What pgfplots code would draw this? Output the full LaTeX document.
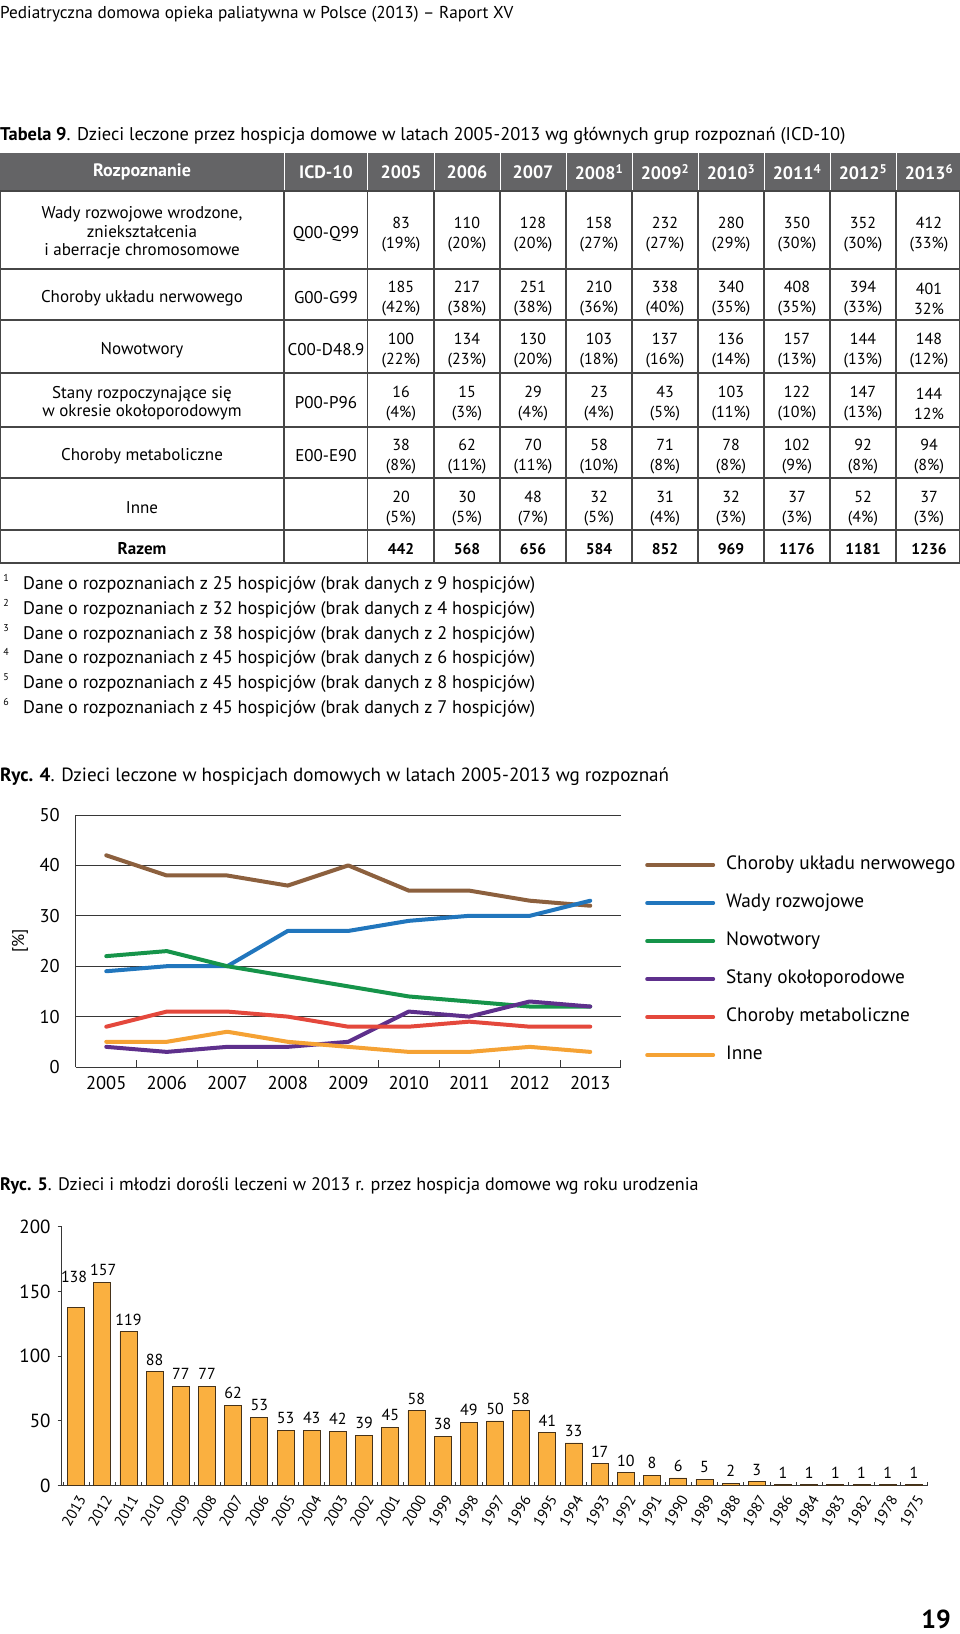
\documentclass[border=0pt]{standalone}
\usepackage{pgfplots}
\pgfplotsset{compat=1.18}
\usepackage{pgfplotstable}
\usepackage{fontspec}
\setmainfont{PT Sans}
\definecolor{hdr}{RGB}{100,100,102}
\definecolor{tline}{RGB}{70,70,70}
\definecolor{gridc}{RGB}{55,55,55}
\definecolor{cBrown}{RGB}{140,96,62}
\definecolor{cBlue}{RGB}{33,118,189}
\definecolor{cGreen}{RGB}{22,148,74}
\definecolor{cPurple}{RGB}{94,48,140}
\definecolor{cRed}{RGB}{228,72,60}
\definecolor{cOrange}{RGB}{245,162,52}
\definecolor{barfill}{RGB}{250,176,64}
\definecolor{bardraw}{RGB}{70,50,25}
\newcommand\fs[2]{\fontsize{#1}{#2}\selectfont}

\pgfplotstableread{
x nerw wady nowo stany metab inne
1 42 19 22 4 8 5
2 38 20 23 3 11 5
3 38 20 20 4 11 7
4 36 27 18 4 10 5
5 40 27 16 5 8 4
6 35 29 14 11 8 3
7 35 30 13 10 9 3
8 33 30 12 13 8 4
9 32 33 12 12 8 3
}\lines

\pgfplotstableread{
x y lab dx dy
0 138 138 -2 24
1 157 157 1 6
2 119 119 0 6
3 88 88 0 6
4 77 77 0 6
5 77 77 0 6
6 62 62 0 6
7 53 53 0 6
8 43 53 0 6
9 43 43 0 6
10 42 42 0 6
11 39 39 0 6
12 45 45 0 6
13 58 58 0 6
14 38 38 0 6
15 49 49 0 6
16 50 50 0 6
17 58 58 0 6
18 41 41 0 6
19 33 33 0 6
20 17 17 0 6
21 10 10 0 6
22 8 8 0 6
23 6 6 0 6
24 5 5 0 6
25 2 2 0 6
26 3 3 0 6
27 1 1 0 6
28 1 1 0 6
29 1 1 0 6
30 1 1 0 6
31 1 1 0 6
32 1 1 0 6
}\bars

\newcommand\rowvals[3][]{%
  \foreach \a/\b [count=\i from 0] in {#3} {\node[cellnum,#1] at ({401+66*\i},#2) {\a\\\b};}}

\begin{document}
\begin{tikzpicture}
\path[use as bounding box] (0pt,0pt) rectangle (960pt,-1634pt);
\begin{scope}[x=1pt,y=-1pt,
  cellnum/.style={align=center, inner sep=0pt, font=\fs{16}{20}},
  lab/.style={align=center, inner sep=0pt, font=\fs{17}{18.5}}]
% page header
\node[anchor=west, inner sep=0pt, font=\fs{17.2}{20}] at (0,14) {Pediatryczna domowa opieka paliatywna w Polsce (2013) -- Raport XV};
\node[anchor=west, inner sep=0pt, font=\fs{18.4}{21}] at (0,136) {\textbf{Tabela 9}. Dzieci leczone przez hospicja domowe w latach 2005-2013 wg głównych grup rozpoznań (ICD-10)};
% table header
\fill[hdr] (0,153) rectangle (960,191);
\foreach \xx in {284,367.5,434,500,566,632,698,764,830,896}
  \draw[white, line width=1pt] (\xx,153) -- (\xx,191);
\begin{scope}[every node/.style={text=white, inner sep=0pt, font=\fs{18}{20}\bfseries}]
\node at (142,172) {Rozpoznanie};
\node at (326,172) {ICD-10};
\node at (401,172) {2005};
\node at (467,172) {2006};
\node at (533,172) {2007};
\node at (599,172) {2008\textsuperscript{1}};
\node at (665,172) {2009\textsuperscript{2}};
\node at (731,172) {2010\textsuperscript{3}};
\node at (797,172) {2011\textsuperscript{4}};
\node at (863,172) {2012\textsuperscript{5}};
\node at (929,172) {2013\textsuperscript{6}};
\end{scope}
% grid
\foreach \xx in {0.7,284,367.5,434,500,566,632,698,764,830,896,959.3}
  \draw[tline, line width=1.2pt] (\xx,191) -- (\xx,563);
\foreach \yy in {191,269,320,373,427,478,530,563}
  \draw[tline, line width=1.2pt] (0,\yy) -- (960,\yy);
% first column
\node[lab] at (142,233) {Wady rozwojowe wrodzone,\\zniekształcenia\\i aberracje chromosomowe};
\node[lab] at (142,298) {Choroby układu nerwowego};
\node[lab] at (142,350) {Nowotwory};
\node[lab] at (142,403) {Stany rozpoczynające się\\w okresie okołoporodowym};
\node[lab] at (142,456) {Choroby metaboliczne};
\node[lab] at (142,508) {Inne};
\node[lab, font=\fs{17}{20}\bfseries] at (142,549) {Razem};
\node[lab] at (326,234) {Q00-Q99};
\node[lab] at (326,298) {G00-G99};
\node[lab] at (326,350) {C00-D48.9};
\node[lab] at (326,403) {P00-P96};
\node[lab] at (326,456) {E00-E90};
\rowvals{235}{83/(19\%),110/(20\%),128/(20\%),158/(27\%),232/(27\%),280/(29\%),350/(30\%),352/(30\%),412/(33\%)}
\rowvals{298.5}{185/(42\%),217/(38\%),251/(38\%),210/(36\%),338/(40\%),340/(35\%),408/(35\%),394/(33\%),401/32\%}
\rowvals{351}{100/(22\%),134/(23\%),130/(20\%),103/(18\%),137/(16\%),136/(14\%),157/(13\%),144/(13\%),148/(12\%)}
\rowvals{404}{16/(4\%),15/(3\%),29/(4\%),23/(4\%),43/(5\%),103/(11\%),122/(10\%),147/(13\%),144/12\%}
\rowvals{457}{38/(8\%),62/(11\%),70/(11\%),58/(10\%),71/(8\%),78/(8\%),102/(9\%),92/(8\%),94/(8\%)}
\rowvals{508.5}{20/(5\%),30/(5\%),48/(7\%),32/(5\%),31/(4\%),32/(3\%),37/(3\%),52/(4\%),37/(3\%)}
\foreach \v [count=\i from 0] in {442,568,656,584,852,969,1176,1181,1236}
  \node[inner sep=0pt, font=\fs{15.5}{20}\bfseries] at ({401+66*\i},549) {\v};
% footnotes
\foreach \n/\a/\b [count=\i from 0] in {1/25/9,2/32/4,3/38/2,4/45/6,5/45/8,6/45/7} {
  \node[anchor=west, inner sep=0pt, font=\fs{18.2}{20}] at (23,{585+24.8*\i}) {Dane o rozpoznaniach z \a\ hospicjów (brak danych z \b\ hospicjów)};
  \node[inner sep=0pt, font=\fs{10}{12}] at (6,{578+24.8*\i}) {\n};
}
% captions
\node[anchor=west, inner sep=0pt, font=\fs{19.1}{21}] at (0,777) {\textbf{Ryc. 4}. Dzieci leczone w hospicjach domowych w latach 2005-2013 wg rozpoznań};
\node[rotate=90, inner sep=0pt, font=\fs{17}{20}] at (20,941) {[\%]};
\node[anchor=west, inner sep=0pt, font=\fs{18.1}{20}] at (0,1186) {\textbf{Ryc. 5}. Dzieci i młodzi dorośli leczeni w 2013 r. przez hospicja domowe wg roku urodzenia};
\node[anchor=east, inner sep=0pt, font=\fs{26}{30}\bfseries] at (951,1619) {19};
\end{scope}

% ---------- line chart ----------
\begin{axis}[
  at={(76pt,-1067pt)}, anchor=south west,
  scale only axis, width=544.5pt, height=252pt,
  xmin=0.5, xmax=9.5, ymin=0, ymax=50,
  axis x line*=bottom, axis y line*=left,
  axis line style={gridc, line width=1pt, -},
  /pgf/number format/assume math mode=true,
  xtick={1,...,9}, xticklabels={2005,2006,2007,2008,2009,2010,2011,2012,2013},
  minor xtick={0.5,1.5,...,9.5},
  major x tick style={draw=none},
  minor x tick style={gridc, line width=1pt},
  minor tick length=7pt, tick align=inside,
  ytick={0,10,...,50}, major y tick style={draw=none},
  ymajorgrids, grid style={gridc, line width=1pt},
  tick label style={font=\fs{18.5}{22}},
  xticklabel style={inner sep=0pt, yshift=-9pt},
  yticklabel style={inner sep=0pt, xshift=-16pt},
  every axis plot/.append style={line width=4pt, line join=round, line cap=round},
  legend image code/.code={\draw[#1] (0pt,0pt) -- (66pt,0pt);},
  legend cell align=left,
  legend style={draw=none, fill=none, at={(rel axis cs:1.045,0.4246)}, anchor=west,
    inner sep=0pt, row sep=21pt, column sep=11pt, font=\fs{19.3}{22},
    nodes={inner sep=0pt, text height=13pt, text depth=4pt}},
  clip=false,
]
\addplot[cBrown] table[x=x, y=nerw] {\lines};
\addlegendentry{Choroby układu nerwowego}
\addplot[cBlue] table[x=x, y=wady] {\lines};
\addlegendentry{Wady rozwojowe}
\addplot[cGreen] table[x=x, y=nowo] {\lines};
\addlegendentry{Nowotwory}
\addplot[cPurple] table[x=x, y=stany] {\lines};
\addlegendentry{Stany okołoporodowe}
\addplot[cRed] table[x=x, y=metab] {\lines};
\addlegendentry{Choroby metaboliczne}
\addplot[cOrange] table[x=x, y=inne] {\lines};
\addlegendentry{Inne}
\end{axis}

% ---------- bar chart ----------
\begin{axis}[
  at={(61.7pt,-1485.7pt)}, anchor=south west,
  scale only axis, width=865.3pt, height=259pt,
  xmin=-0.55, xmax=32.5, ymin=0, ymax=200,
  axis x line*=bottom, axis y line*=left,
  axis line style={gridc, line width=1pt, -},
  /pgf/number format/assume math mode=true,
  ybar, bar width=17pt, bar shift=0pt,
  xtick={0,...,32},
  xticklabels={2013,2012,2011,2010,2009,2008,2007,2006,2005,2004,2003,2002,2001,2000,1999,1998,1997,1996,1995,1994,1993,1992,1991,1990,1989,1988,1987,1986,1984,1983,1982,1978,1975},
  major x tick style={draw=none},
  minor xtick={-0.5,0.5,...,32.5},
  minor x tick style={gridc, line width=0.8pt, yshift=4pt},
  tick align=outside, major tick length=4pt, minor tick length=4pt,
  ytick={0,50,...,200}, major y tick style={gridc, line width=1pt},
  yticklabel style={font=\fs{19}{22}, inner sep=0pt, xshift=-7pt},
  xticklabel style={font=\fs{15}{17}, inner sep=0pt, xshift=6pt, yshift=-7pt, rotate=60, anchor=east},
  nodes near coords, point meta=explicit symbolic,
  visualization depends on={\thisrow{dy} \as \labdy},
  visualization depends on={\thisrow{dx} \as \labdx},
  every node near coord/.append style={font=\fs{16}{18}, anchor=south, inner sep=0pt, yshift={\labdy*1pt}, xshift={\labdx*1pt}},
  clip=false,
]
\addplot[fill=barfill, draw=bardraw, line width=0.8pt] table[x=x, y=y, meta=lab] {\bars};
\end{axis}
\end{tikzpicture}
\end{document}
